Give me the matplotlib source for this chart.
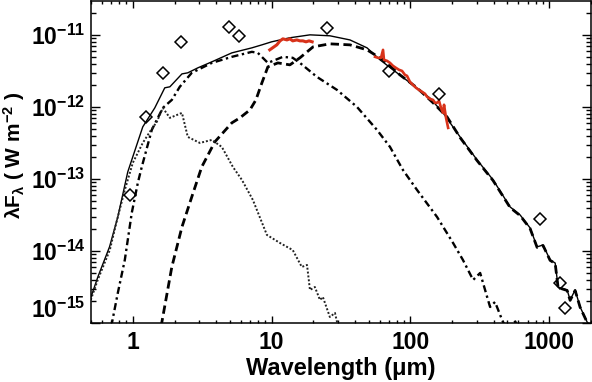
import numpy as np
import matplotlib
matplotlib.use('Agg')
import matplotlib.pyplot as plt

plt.rcParams['font.family'] = ['Liberation Sans', 'DejaVu Sans']
plt.rcParams['font.weight'] = 'bold'
plt.rcParams['mathtext.fontset'] = 'custom'
plt.rcParams['mathtext.rm'] = 'Liberation Sans:bold'
plt.rcParams['mathtext.it'] = 'Liberation Sans:bold'
plt.rcParams['mathtext.bf'] = 'Liberation Sans:bold'
plt.rcParams['mathtext.default'] = 'rm'

# photometry (diamonds)
phot_wl = [0.95, 1.24, 1.65, 2.22, 4.92, 5.8, 25, 70, 161, 860, 1200, 1302]
phot_flux = [6.0e-14, 7.2e-13, 2.95e-12, 8.0e-12, 1.29e-11, 9.7e-12, 1.25e-11,
             3.16e-12, 1.51e-12, 2.78e-14, 3.6e-15, 1.6e-15]

# total model (solid)
tot_wl = [0.50, 0.56, 0.68, 0.78, 0.92, 1.18, 1.44, 1.70, 1.85, 2.26, 2.49, 2.94,
          3.71, 5.17, 7.21, 8.51, 10.0, 13.5, 18.9, 26.3, 36.7, 48.7, 60.4, 80.0,
          104, 138, 172, 228, 302, 394, 523, 617, 728, 818, 903, 1015, 1104, 1159,
          1346, 1415, 1537, 1670, 1876, 2005]
tot_flux = [2.3e-15, 4.35e-15, 1.14e-14, 2.97e-14, 1.25e-13, 5.28e-13, 9.68e-13,
            1.84e-12, 1.90e-12, 2.87e-12, 2.97e-12, 3.48e-12, 4.22e-12, 5.62e-12,
            6.6e-12, 7.26e-12, 8.0e-12, 9.1e-12, 1.0e-11, 9.7e-12, 8.5e-12, 6.6e-12,
            4.5e-12, 2.97e-12, 2.02e-12, 1.33e-12, 8.25e-13, 3.83e-13, 1.84e-13,
            9.7e-14, 4.08e-14, 3.16e-14, 2.09e-14, 1.14e-14, 1.21e-14, 7.5e-15,
            6.8e-15, 3.16e-15, 2.87e-15, 2.09e-15, 2.87e-15, 1.67e-15, 1.03e-15, 9.1e-16]

# disk component (dash-dot)
disk_wl = [0.70, 0.78, 0.876, 0.983, 1.087, 1.161, 1.371, 1.646, 1.911, 2.18, 2.66,
           3.71, 5.17, 7.21, 7.96, 9.40, 11.1, 12.06, 14.2, 16.0, 21.2, 29.6, 41.2,
           57.4, 71.3, 88.4, 111.6, 155.5, 203, 239, 283, 318, 357, 375, 407, 458,
           481, 540, 570, 600]
disk_flux = [9e-16, 2.61e-15, 7.5e-15, 3.37e-14, 8.8e-14, 1.47e-13, 4.8e-13,
             9.68e-13, 1.25e-12, 1.90e-12, 2.97e-12, 4.08e-12, 4.95e-12, 5.81e-12,
             5.62e-12, 4.08e-12, 4.64e-12, 4.95e-12, 4.80e-12, 4.08e-12, 2.61e-12,
             1.72e-12, 1.0e-12, 4.8e-13, 2.78e-13, 1.33e-13, 7.03e-14, 2.97e-14,
             1.29e-14, 7.5e-15, 3.96e-15, 4.95e-15, 2.30e-15, 1.67e-15, 1.96e-15,
             1.10e-15, 9e-16, 9.5e-16, 1.05e-15, 8e-16]

# envelope component (dashed)
env_wl = [1.60, 1.911, 2.26, 2.66, 3.14, 3.90, 5.17, 5.91, 6.98, 7.71, 8.51, 9.40,
          11.1, 13.55, 16.0, 19.9, 26.3, 36.7, 48.7, 63.5, 84.1, 111.6, 145.6, 183.6,
          228, 302, 394, 523, 617, 728, 818, 903, 1015, 1104, 1159, 1346, 1415,
          1537, 1670, 1876, 2005]
env_flux = [9e-16, 6.0e-15, 2.15e-14, 5.62e-14, 1.47e-13, 3.27e-13, 6.0e-13,
            7.04e-13, 9.08e-13, 1.25e-12, 2.15e-12, 3.59e-12, 4.08e-12, 3.83e-12,
            4.80e-12, 6.81e-12, 7.5e-12, 7.26e-12, 6.19e-12, 4.5e-12, 2.78e-12,
            1.84e-12, 1.14e-12, 7.26e-13, 3.75e-13, 1.8e-13, 9.5e-14, 4.0e-14,
            3.1e-14, 2.05e-14, 1.12e-14, 1.19e-14, 7.4e-15, 6.7e-15, 3.1e-15,
            2.83e-15, 2.06e-15, 2.83e-15, 1.65e-15, 1.02e-15, 9e-16]

# stellar / scattered component (dotted)
star_wl = [0.498, 0.559, 0.683, 0.767, 0.876, 1.0, 1.18, 1.326, 1.489, 1.646, 1.85,
           2.26, 2.49, 3.04, 3.71, 4.38, 5.26, 6.11, 7.33, 9.25, 11.5, 12.9, 14.2,
           16.5, 18.0, 18.9, 20.5, 22.3, 23.4, 26.3, 28.6, 30.1]
star_flux = [2.09e-15, 3.96e-15, 1.03e-14, 2.61e-14, 7.03e-14, 1.67e-13, 3.16e-13,
             4.50e-13, 6.19e-13, 9.68e-13, 7.04e-13, 8.25e-13, 3.83e-13, 3.16e-13,
             3.48e-13, 2.78e-13, 1.47e-13, 9.7e-14, 5.11e-14, 1.67e-14, 1.29e-14,
             1.14e-14, 1.03e-14, 6.0e-15, 6.39e-15, 2.87e-15, 3.16e-15, 2.09e-15,
             2.30e-15, 1.21e-15, 1.38e-15, 9e-16]

# observed spectra (red)
irs_wl = [9.7, 10.4, 10.9, 11.5, 12.06, 12.9, 13.55, 14.2, 15.2, 16.0, 16.8, 17.7,
          18.6, 19.6]
irs_flux = [6.19e-12, 6.81e-12, 7.26e-12, 8.25e-12, 8.8e-12, 8.5e-12, 8.8e-12,
            8.25e-12, 8.5e-12, 8.25e-12, 8.25e-12, 8.0e-12, 8.25e-12, 8.0e-12]
lws_wl = [55.6, 58.4, 61.4, 63.5, 64.5, 67.8, 71.3, 74.9, 78.7, 82.8, 87.0, 91.4,
          94.5, 99.3, 104.4, 109.7, 115.3, 121.2, 127.4, 131.8, 138.5, 145.6, 150.5,
          155.5, 160.8, 166.2, 171.8, 174.7, 180.6, 187]
lws_flux = [4.95e-12, 4.80e-12, 4.80e-12, 6.19e-12, 4.5e-12, 4.36e-12, 4.08e-12,
            3.71e-12, 3.48e-12, 3.27e-12, 3.16e-12, 2.78e-12, 2.70e-12, 2.22e-12,
            2.02e-12, 1.84e-12, 1.72e-12, 1.62e-12, 1.52e-12, 1.38e-12, 1.29e-12,
            1.25e-12, 1.14e-12, 1.14e-12, 1.21e-12, 9.68e-13, 8.25e-13, 1.07e-12,
            7.04e-13, 5.11e-13]

xticks = [1, 10, 100, 1000]
xticklabels = ['1', '10', '100', '1000']
yticks = [1e-15, 1e-14, 1e-13, 1e-12, 1e-11]
yticklabels = [r'$10^{-15}$', r'$10^{-14}$', r'$10^{-13}$', r'$10^{-12}$', r'$10^{-11}$']

fig = plt.figure(figsize=(5.92, 3.82), dpi=100)
ax = fig.add_axes([91/592, 59/382, 500/592, 322/382])

ax.plot(tot_wl, tot_flux, color='black', lw=1.0)
ax.plot(disk_wl, disk_flux, color='black', lw=1.7, linestyle=(0, (3, 1.5, 1, 1.5)))
ax.plot(env_wl, env_flux, color='black', lw=2.0, linestyle=(0, (3, 1.6)))
ax.plot(star_wl, star_flux, color='#222222', lw=1.4, linestyle=(0, (1, 1)))
ax.plot(irs_wl, irs_flux, color='#d8321a', lw=2.2)
ax.plot(lws_wl, lws_flux, color='#d8321a', lw=1.9)
ax.plot(phot_wl, phot_flux, linestyle='none', marker='D', markersize=6.5,
        markerfacecolor='none', markeredgecolor='black', markeredgewidth=1.1)

ax.set_xscale('log')
ax.set_yscale('log')
ax.set_xlim(0.5, 2000)
ax.set_ylim(1e-15, 2.95e-11)
ax.set_xticks(xticks)
ax.set_xticklabels(xticklabels)
ax.set_yticks(yticks)
ax.set_yticklabels(yticklabels)

ax.tick_params(which='both', direction='in', top=True, right=True, width=1.0)
ax.tick_params(axis='x', which='major', length=5, labelsize=16.5, pad=6)
ax.tick_params(axis='x', which='minor', length=2.5)
ax.tick_params(axis='y', which='major', length=6.5, labelsize=16.5, pad=4)
ax.tick_params(axis='y', which='minor', length=3.6)
for s in ax.spines.values():
    s.set_linewidth(1.1)

ax.get_yticklabels()[0].set_va('bottom')

ax.set_xlabel('Wavelength (\u03bcm)', fontsize=17, fontweight='bold')
ax.set_ylabel(r'$\lambda$F$_\lambda$ ( W m$^{-2}$ )', fontsize=15, fontweight='bold')
ax.xaxis.set_label_coords(0.5, -0.105)
ax.yaxis.set_label_coords(-0.128, 0.52)

fig.savefig('out.png', dpi=100)
